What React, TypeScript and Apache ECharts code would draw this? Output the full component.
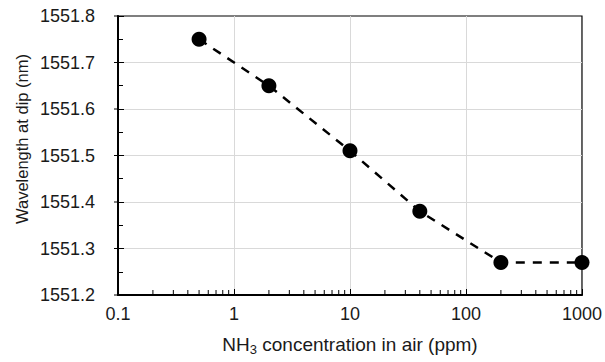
import React, { useEffect, useRef } from "react";
import * as echarts from "echarts";

const xValues = [0.5, 2, 10, 40, 200, 1000];
const yValues = [1551.75, 1551.65, 1551.51, 1551.38, 1551.27, 1551.27];
const xMinorTicks = [
  0.2, 0.3, 0.4, 0.5, 0.6, 0.7, 0.8, 0.9,
  2, 3, 4, 5, 6, 7, 8, 9,
  20, 30, 40, 50, 60, 70, 80, 90,
  200, 300, 400, 500, 600, 700, 800, 900,
];
const yMajorTicks = [1551.2, 1551.3, 1551.4, 1551.5, 1551.6, 1551.7, 1551.8];
const yTitle = "Wavelength at dip (nm)";

const FONT = "'Liberation Sans', Arial, sans-serif";
const TEXT = "#1a1a1a";

export default function App() {
  const ref = useRef<HTMLDivElement>(null);
  useEffect(() => {
    if (!ref.current) return;
    const chart = echarts.init(ref.current, undefined, { renderer: "svg" });
    const xMin = 0.1;
    const yMin = 1551.2;
    chart.setOption({
      animation: false,
      grid: {
        left: 118,
        right: 22,
        top: 16,
        bottom: 67,
        show: true,
        borderColor: "#000",
        borderWidth: 1.2,
        backgroundColor: "transparent",
      },
      graphic: [
        {
          type: "text",
          x: 13,
          y: 139,
          rotation: Math.PI / 2,
          style: {
            text: yTitle,
            font: `16.5px ${FONT}`,
            fill: TEXT,
            textAlign: "center",
            textVerticalAlign: "top",
          },
        },
      ],
      xAxis: {
        type: "log",
        logBase: 10,
        min: 0.1,
        max: 1000,
        name: "{a|NH}{s|3}{a| concentration in air (ppm)}",
        nameLocation: "middle",
        nameGap: 38,
        nameTextStyle: {
          color: TEXT,
          fontFamily: FONT,
          rich: {
            a: { fontSize: 19, fontFamily: FONT, color: TEXT, lineHeight: 22 },
            s: { fontSize: 13, fontFamily: FONT, color: TEXT, lineHeight: 22, padding: [11, 0, 0, 0] },
          },
        },
        axisLine: { show: true, onZero: false, lineStyle: { color: "#000", width: 2 } },
        axisTick: { show: true, inside: true, length: 6, lineStyle: { color: "#000", width: 1 } },
        axisLabel: {
          color: TEXT,
          fontSize: 18,
          fontFamily: FONT,
          margin: 10,
          formatter: (v: number) => String(v),
        },
        splitLine: {
          show: true,
          showMinLine: false,
          showMaxLine: false,
          lineStyle: { color: "#d9d9d9", width: 1 },
        },
        minorTick: { show: false },
        minorSplitLine: { show: false },
      },
      yAxis: {
        type: "value",
        min: 1551.2,
        max: 1551.8,
        interval: 0.1,
        axisLine: { show: true, onZero: false, lineStyle: { color: "#000", width: 2 } },
        axisTick: { show: true, inside: true, length: 6, lineStyle: { color: "#000", width: 1 } },
        minorTick: { show: true, splitNumber: 2, length: 5, lineStyle: { color: "#000", width: 1 } },
        axisLabel: {
          color: TEXT,
          fontSize: 18,
          fontFamily: FONT,
          margin: 23,
          formatter: (v: number) => v.toFixed(1),
        },
        splitLine: {
          show: true,
          showMinLine: false,
          showMaxLine: false,
          lineStyle: { color: "#d9d9d9", width: 1 },
        },
      },
      series: [
        {
          type: "line",
          data: xValues.map((x, i) => [x, yValues[i]]),
          lineStyle: { color: "#000", width: 2.5, type: [9, 8] },
          symbol: "circle",
          symbolSize: 15,
          itemStyle: { color: "#000" },
          z: 5,
        },
        {
          type: "custom",
          silent: true,
          clip: false,
          data: xMinorTicks.map((x) => [x, yMin]),
          renderItem: (params: any, api: any) => {
            const p = api.coord([api.value(0), api.value(1)]);
            return {
              type: "line",
              shape: { x1: p[0], y1: p[1] - 1, x2: p[0], y2: p[1] - 5 },
              style: { stroke: "#000", lineWidth: 1 },
            };
          },
          z: 3,
        },
        {
          type: "custom",
          silent: true,
          clip: false,
          data: yMajorTicks.map((y) => [xMin, y]),
          renderItem: (params: any, api: any) => {
            const p = api.coord([api.value(0), api.value(1)]);
            return {
              type: "line",
              shape: { x1: p[0] - 4, y1: p[1], x2: p[0], y2: p[1] },
              style: { stroke: "#000", lineWidth: 1 },
            };
          },
          z: 3,
        },
      ],
    });
    return () => chart.dispose();
  }, []);
  return (
    <div
      ref={ref}
      style={{ position: "absolute", left: 0, top: 0, width: 605, height: 362 }}
    />
  );
}
